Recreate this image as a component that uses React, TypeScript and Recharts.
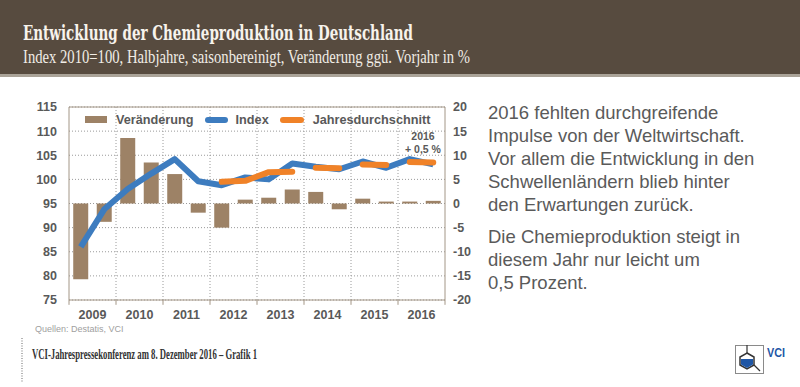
import React from 'react'
import {
  ComposedChart,
  Bar,
  Line,
  XAxis,
  YAxis,
  CartesianGrid,
  ReferenceLine,
  Legend,
} from 'recharts'

const halfYears = [
  '2009 H1', '2009 H2', '2010 H1', '2010 H2', '2011 H1', '2011 H2', '2012 H1', '2012 H2',
  '2013 H1', '2013 H2', '2014 H1', '2014 H2', '2015 H1', '2015 H2', '2016 H1', '2016 H2',
]
const years = ['2009', '2010', '2011', '2012', '2013', '2014', '2015', '2016']

// Veränderung ggü. Vorjahr in % (rechte Achse)
const change = [-15.7, -3.8, 13.6, 8.5, 6.1, -1.9, -5.0, 0.8, 1.2, 2.9, 2.4, -1.2, 1.0, 0.4, 0.4, 0.55]
// Index 2010=100 (linke Achse)
const index = [86.0, 93.8, 98.0, 101.2, 104.2, 99.6, 98.8, 100.4, 100.0, 103.3, 102.6, 102.1, 103.7, 102.4, 104.2, 103.1]
// Jahresdurchschnitt, in zwei Serien damit die Jahre getrennt bleiben
const avgA = [null, null, null, null, null, null, 99.5, 99.7, 101.5, 101.6, null, null, 103.1, 103.0, null, null]
const avgB = [null, null, null, null, null, null, null, null, null, null, 102.4, 102.3, null, null, 103.6, 103.5]

const leftTicks = [75, 80, 85, 90, 95, 100, 105, 110, 115]
const rightTicks = [-20, -15, -10, -5, 0, 5, 10, 15, 20]
const yearBounds = [0, 1, 2, 3, 4, 5, 6, 7, 8]
const yearCenters = [0.5, 1.5, 2.5, 3.5, 4.5, 5.5, 6.5, 7.5]

const data = halfYears.map((label, i) => ({
  label,
  pos: (i + 0.5) / 2, // Lage des Halbjahres in Jahren ab 2009
  change: change[i],
  index: index[i],
  avgA: avgA[i],
  avgB: avgB[i],
}))

const BROWN = '#9d8266'
const BLUE = '#3d7cbf'
const ORANGE = '#f08228'
const FRAME = '#a39686'
const GREY_TEXT = '#595959'

const tickStyle = {
  fontFamily: '"Liberation Sans", Arial, sans-serif',
  fontWeight: 700,
  fontSize: 12.5,
  fill: GREY_TEXT,
}

function LegendRow() {
  const txt: React.CSSProperties = {
    fontFamily: '"Liberation Sans", Arial, sans-serif',
    fontWeight: 700,
    fontSize: 12.7,
    color: GREY_TEXT,
    whiteSpace: 'nowrap',
  }
  return (
    <div style={{ display: 'flex', alignItems: 'center', height: 15 }}>
      <div style={{ width: 22, height: 7, background: BROWN }} />
      <span style={{ ...txt, marginLeft: 9 }}>Veränderung</span>
      <div style={{ width: 23, height: 6, background: BLUE, borderRadius: 3, marginLeft: 11 }} />
      <span style={{ ...txt, marginLeft: 8 }}>Index</span>
      <div style={{ width: 24, height: 6, background: ORANGE, borderRadius: 3, marginLeft: 11 }} />
      <span style={{ ...txt, marginLeft: 9 }}>Jahresdurchschnitt</span>
    </div>
  )
}

function VciLogo() {
  return (
    <svg width={70} height={40} style={{ position: 'absolute', left: 730, top: 340 }}>
      <rect x={5.5} y={5.5} width={28} height={28} fill="none" stroke="#8a8a8a" strokeWidth={1} />
      <line x1={17} y1={5} x2={17} y2={13} stroke="#333" strokeWidth={1.2} />
      <polygon points="17,13 24,17 24,25 17,29 10,25 10,17" fill="#fff" stroke="#333" strokeWidth={1.5} />
      <polygon points="11,19 23,19 23,24.5 17,28 11,24.5" fill="#1f56a5" />
      <line x1={24} y1={25} x2={30} y2={31} stroke="#333" strokeWidth={1.2} />
      <text x={37} y={17} fontFamily='"Liberation Sans Narrow", "Liberation Sans", Arial' fontWeight={700} fontSize={13} fill="#1f56a5" textLength={18} lengthAdjust="spacingAndGlyphs">
        VCI
      </text>
    </svg>
  )
}

export default function App() {
  const para: React.CSSProperties = {
    position: 'absolute',
    left: 488,
    fontFamily: '"Liberation Sans", Arial, sans-serif',
    fontSize: 18.5,
    lineHeight: '23px',
    color: '#5a5a5a',
    whiteSpace: 'nowrap',
  }
  return (
    <div
      style={{
        position: 'absolute',
        left: 0,
        top: 0,
        width: 800,
        height: 387,
        background: '#fff',
        overflow: 'hidden',
      }}
    >
      <svg width={800} height={78} style={{ position: 'absolute', left: 0, top: 0 }}>
        <rect x={0} y={0} width={800} height={74} fill="#574b3f" />
        <rect x={0} y={74} width={800} height={3} fill="#aaa398" />
        <text x={23} y={40} fontFamily='"DejaVu Serif", "Liberation Serif", serif' fontWeight={700} fontSize={20} fill="#f7f3ec" textLength={390} lengthAdjust="spacingAndGlyphs">
          Entwicklung der Chemieproduktion in Deutschland
        </text>
        <text x={23} y={63} fontFamily='"Liberation Serif", serif' fontSize={18} fill="#f1ede6" textLength={447} lengthAdjust="spacingAndGlyphs">
          Index 2010=100, Halbjahre, saisonbereinigt, Veränderung ggü. Vorjahr in %
        </text>
      </svg>

      <div style={{ position: 'absolute', left: 0, top: 90 }}>
        <ComposedChart
          width={490}
          height={240}
          data={data}
          margin={{ top: 17, right: 5, bottom: 5, left: 29 }}
          barCategoryGap="18%"
        >
          <CartesianGrid yAxisId="idx" xAxisId="yr" vertical={false} stroke="#9a9a9a" strokeDasharray="1 2" />
          <XAxis
            xAxisId="yr"
            dataKey="pos"
            type="number"
            domain={[0, 8]}
            allowDataOverflow
            ticks={yearCenters}
            interval={0}
            tickFormatter={(v: number) => years[Math.floor(v)]}
            axisLine={{ stroke: FRAME }}
            tickLine={false}
            tickMargin={4}
            height={25}
            tick={tickStyle}
          />
          <XAxis xAxisId="hy" dataKey="label" hide height={0} />
          <YAxis
            yAxisId="idx"
            domain={[75, 115]}
            ticks={leftTicks}
            interval={0}
            width={40}
            tickLine={false}
            tickMargin={6}
            axisLine={{ stroke: FRAME }}
            tick={tickStyle}
          />
          <YAxis
            yAxisId="chg"
            orientation="right"
            domain={[-20, 20]}
            ticks={rightTicks}
            interval={0}
            width={40}
            tickLine={false}
            axisLine={{ stroke: FRAME }}
            tick={{ ...tickStyle, textAnchor: 'start' }}
          />
          {yearBounds.slice(1, 8).map((b) => (
            <ReferenceLine key={'g' + b} xAxisId="yr" yAxisId="idx" x={b} stroke="#9a9a9a" strokeDasharray="1 2" />
          ))}
          {yearBounds.map((b) => (
            <ReferenceLine
              key={'t' + b}
              xAxisId="yr"
              yAxisId="idx"
              segment={[{ x: b, y: 75 }, { x: b, y: 74 }]}
              ifOverflow="visible"
              stroke={FRAME}
            />
          ))}
          <ReferenceLine xAxisId="yr" yAxisId="idx" y={115} stroke={FRAME} />
          <Bar xAxisId="hy" yAxisId="chg" dataKey="change" fill={BROWN} isAnimationActive={false} />
          <Line
            xAxisId="hy"
            yAxisId="idx"
            dataKey="index"
            type="linear"
            stroke={BLUE}
            strokeWidth={6}
            strokeLinejoin="round"
            dot={false}
            activeDot={false}
            isAnimationActive={false}
          />
          <Line
            xAxisId="hy"
            yAxisId="idx"
            dataKey="avgA"
            type="linear"
            stroke={ORANGE}
            strokeWidth={6}
            strokeLinejoin="round"
            strokeLinecap="round"
            dot={false}
            activeDot={false}
            connectNulls={false}
            isAnimationActive={false}
          />
          <Line
            xAxisId="hy"
            yAxisId="idx"
            dataKey="avgB"
            type="linear"
            stroke={ORANGE}
            strokeWidth={6}
            strokeLinejoin="round"
            strokeLinecap="round"
            dot={false}
            activeDot={false}
            connectNulls={false}
            isAnimationActive={false}
          />
          <Legend
            layout="horizontal"
            verticalAlign="middle"
            align="center"
            content={() => <LegendRow />}
            wrapperStyle={{ left: 85, top: 22, width: 'auto', height: 15 }}
          />
        </ComposedChart>
      </div>

      <div
        style={{
          position: 'absolute',
          left: 403,
          top: 130,
          width: 40,
          textAlign: 'center',
          fontFamily: '"Liberation Sans", Arial, sans-serif',
          fontWeight: 700,
          fontSize: 10.5,
          lineHeight: '12.5px',
          color: GREY_TEXT,
          whiteSpace: 'nowrap',
        }}
      >
        2016
        <br />+ 0,5 %
      </div>

      <div
        style={{
          position: 'absolute',
          left: 35,
          top: 324,
          fontFamily: '"Liberation Sans", Arial, sans-serif',
          fontSize: 9,
          color: '#a0a0a0',
        }}
      >
        Quellen: Destatis, VCI
      </div>

      <div style={{ ...para, top: 100.6 }}>
        2016 fehlten durchgreifende
        <br />
        Impulse von der Weltwirtschaft.
        <br />
        Vor allem die Entwicklung in den
        <br />
        Schwellenländern blieb hinter
        <br />
        den Erwartungen zurück.
      </div>
      <div style={{ ...para, top: 225.1 }}>
        Die Chemieproduktion steigt in
        <br />
        diesem Jahr nur leicht um
        <br />
        0,5 Prozent.
      </div>

      <svg width={700} height={50} style={{ position: 'absolute', left: 0, top: 336 }}>
        <line x1={22} y1={2} x2={22} y2={47} stroke="#9a9a9a" strokeWidth={1.5} strokeDasharray="1 1.5" />
        <text x={32} y={23} fontFamily='"Liberation Serif", serif' fontWeight={700} fontSize={14} fill="#333" textLength={225} lengthAdjust="spacingAndGlyphs">
          VCI-Jahrespressekonferenz am 8. Dezember 2016 – Grafik 1
        </text>
      </svg>

      <VciLogo />
    </div>
  )
}
